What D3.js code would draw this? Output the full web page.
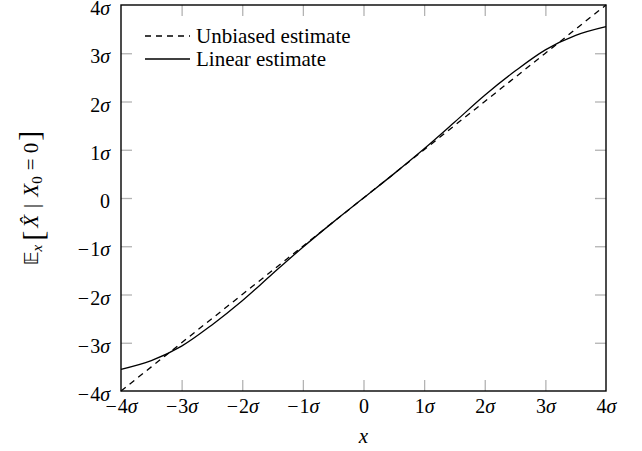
<!DOCTYPE html>
<html>
<head>
<meta charset="utf-8">
<script src="https://cdn.jsdelivr.net/npm/d3@7"></script>
<style>
body { margin: 0; background: white; }
svg { display: block; }
text { font-family: "Liberation Serif", "Times New Roman", serif; fill: black; }
</style>
</head>
<body>
<script>
var width = 642
var height = 451
var left = 121, right = 606, top_ = 5, bottom = 391

// tick values (in units of sigma)
var ticks = [-4, -3, -2, -1, 0, 1, 2, 3, 4]

// x positions of sampled points, in sigma
var xs = [-4, -3.5, -3, -2.5, -2, -1.5, -1, -0.5, 0, 0.5, 1, 1.5, 2, 2.5, 3, 3.5, 4]
// unbiased estimate (identity)
var unbiased = [-4, -3.5, -3, -2.5, -2, -1.5, -1, -0.5, 0, 0.5, 1, 1.5, 2, 2.5, 3, 3.5, 4]
// linear estimate
var linear = [-3.55, -3.37, -3.07, -2.63, -2.13, -1.57, -1.02, -0.5, 0, 0.5, 1.02, 1.57, 2.13, 2.63, 3.07, 3.37, 3.55]

var legend_names = ["Unbiased estimate", "Linear estimate"]

var x = d3.scaleLinear().domain([-4, 4]).range([left, right])
var y = d3.scaleLinear().domain([-4, 4]).range([bottom, top_])

var svg = d3.select("body").append("svg")
.attr("width", width)
.attr("height", height)

function label(sel) {
    sel.each(function(d) {
        var t = d3.select(this)
        t.text(null)
        if (d == 0) { t.text("0"); return }
        if (d < 0) t.append("tspan").text("\u2212")
        t.append("tspan").attr("dx", d < 0 ? 1 : 0).text(Math.abs(d))
        t.append("tspan").style("font-style", "italic").text("\u03c3")
    })
}

var tick_len = 11

var gx = svg.append("g")
.attr("transform", "translate(0," + bottom + ")")
.call(d3.axisBottom(x).tickValues(ticks).tickSizeInner(-tick_len).tickSizeOuter(0).tickPadding(8))
gx.selectAll(".tick text").call(label).style("font-size", "20px").attr("font-family", null)

var gy = svg.append("g")
.attr("transform", "translate(" + left + ",0)")
.call(d3.axisLeft(y).tickValues(ticks).tickSizeInner(-tick_len).tickSizeOuter(0).tickPadding(11))
gy.selectAll(".tick text").call(label).style("font-size", "20px").attr("dy", "0.48em").attr("font-family", null)

var gt = svg.append("g")
.attr("transform", "translate(0," + top_ + ")")
.call(d3.axisTop(x).tickValues(ticks.slice(1, -1)).tickSizeInner(-tick_len).tickSizeOuter(0).tickFormat(""))

var gr = svg.append("g")
.attr("transform", "translate(" + right + ",0)")
.call(d3.axisRight(y).tickValues(ticks.slice(1, -1)).tickSizeInner(-tick_len).tickSizeOuter(0).tickFormat(""))

gx.selectAll(".tick").filter(function(d) { return d == -4 || d == 4 }).select("line").remove()
gy.selectAll(".tick").filter(function(d) { return d == -4 || d == 4 }).select("line").remove()

svg.selectAll(".tick line").attr("stroke", "#b3b3b3").attr("stroke-width", 1.3)
svg.selectAll(".domain").remove()

svg.append("rect")
.attr("x", left).attr("y", top_)
.attr("width", right - left).attr("height", bottom - top_)
.attr("fill", "none").attr("stroke", "black").attr("stroke-width", 1.4)

var line = d3.line()
.x(function(d, i) { return x(xs[i]) })
.y(function(d) { return y(d) })
.curve(d3.curveMonotoneX)

svg.append("path")
.attr("d", line(unbiased))
.attr("fill", "none").attr("stroke", "black").attr("stroke-width", 1.3)
.style("stroke-dasharray", "6, 5")

svg.append("path")
.attr("d", line(linear))
.attr("fill", "none").attr("stroke", "black").attr("stroke-width", 1.3)

// legend
var legend = svg.append("g")
legend_names.forEach(function(name, i) {
    var ly = 36 + i * 23
    legend.append("line")
    .attr("x1", 145).attr("x2", 190).attr("y1", ly).attr("y2", ly)
    .attr("stroke", "black").attr("stroke-width", 1.3)
    .style("stroke-dasharray", i == 0 ? "6, 5" : null)
    legend.append("text")
    .attr("x", 196).attr("y", ly + 7)
    .style("font-size", "21px")
    .text(name)
})

// x label
svg.append("text")
.attr("x", (left + right) / 2).attr("y", 443)
.style("text-anchor", "middle").style("font-size", "21px").style("font-style", "italic")
.text("x")

// y label
var yl = svg.append("text")
.attr("transform", "translate(38," + ((top_ + bottom) / 2) + ") rotate(-90)")
.style("text-anchor", "middle").style("font-size", "21px")
yl.append("tspan").style("font-family", "DejaVu Sans").style("font-size", "19px").text("\ud835\udd3c")
yl.append("tspan").style("font-style", "italic").style("font-size", "15px").attr("dy", 4).text("x")
yl.append("tspan").style("font-size", "30px").attr("dy", 1).attr("dx", 4).text("[")
yl.append("tspan").style("font-style", "italic").attr("dy", -5).attr("dx", 3).text("X\u0302")
yl.append("tspan").attr("dx", 7).text("|")
yl.append("tspan").style("font-style", "italic").attr("dx", 7).text("X")
yl.append("tspan").style("font-size", "15px").attr("dy", 4).text("0")
yl.append("tspan").attr("dy", -4).attr("dx", 6).text("= 0")
yl.append("tspan").style("font-size", "30px").attr("dy", 1).attr("dx", 2).text("]")
</script>
</body>
</html>
